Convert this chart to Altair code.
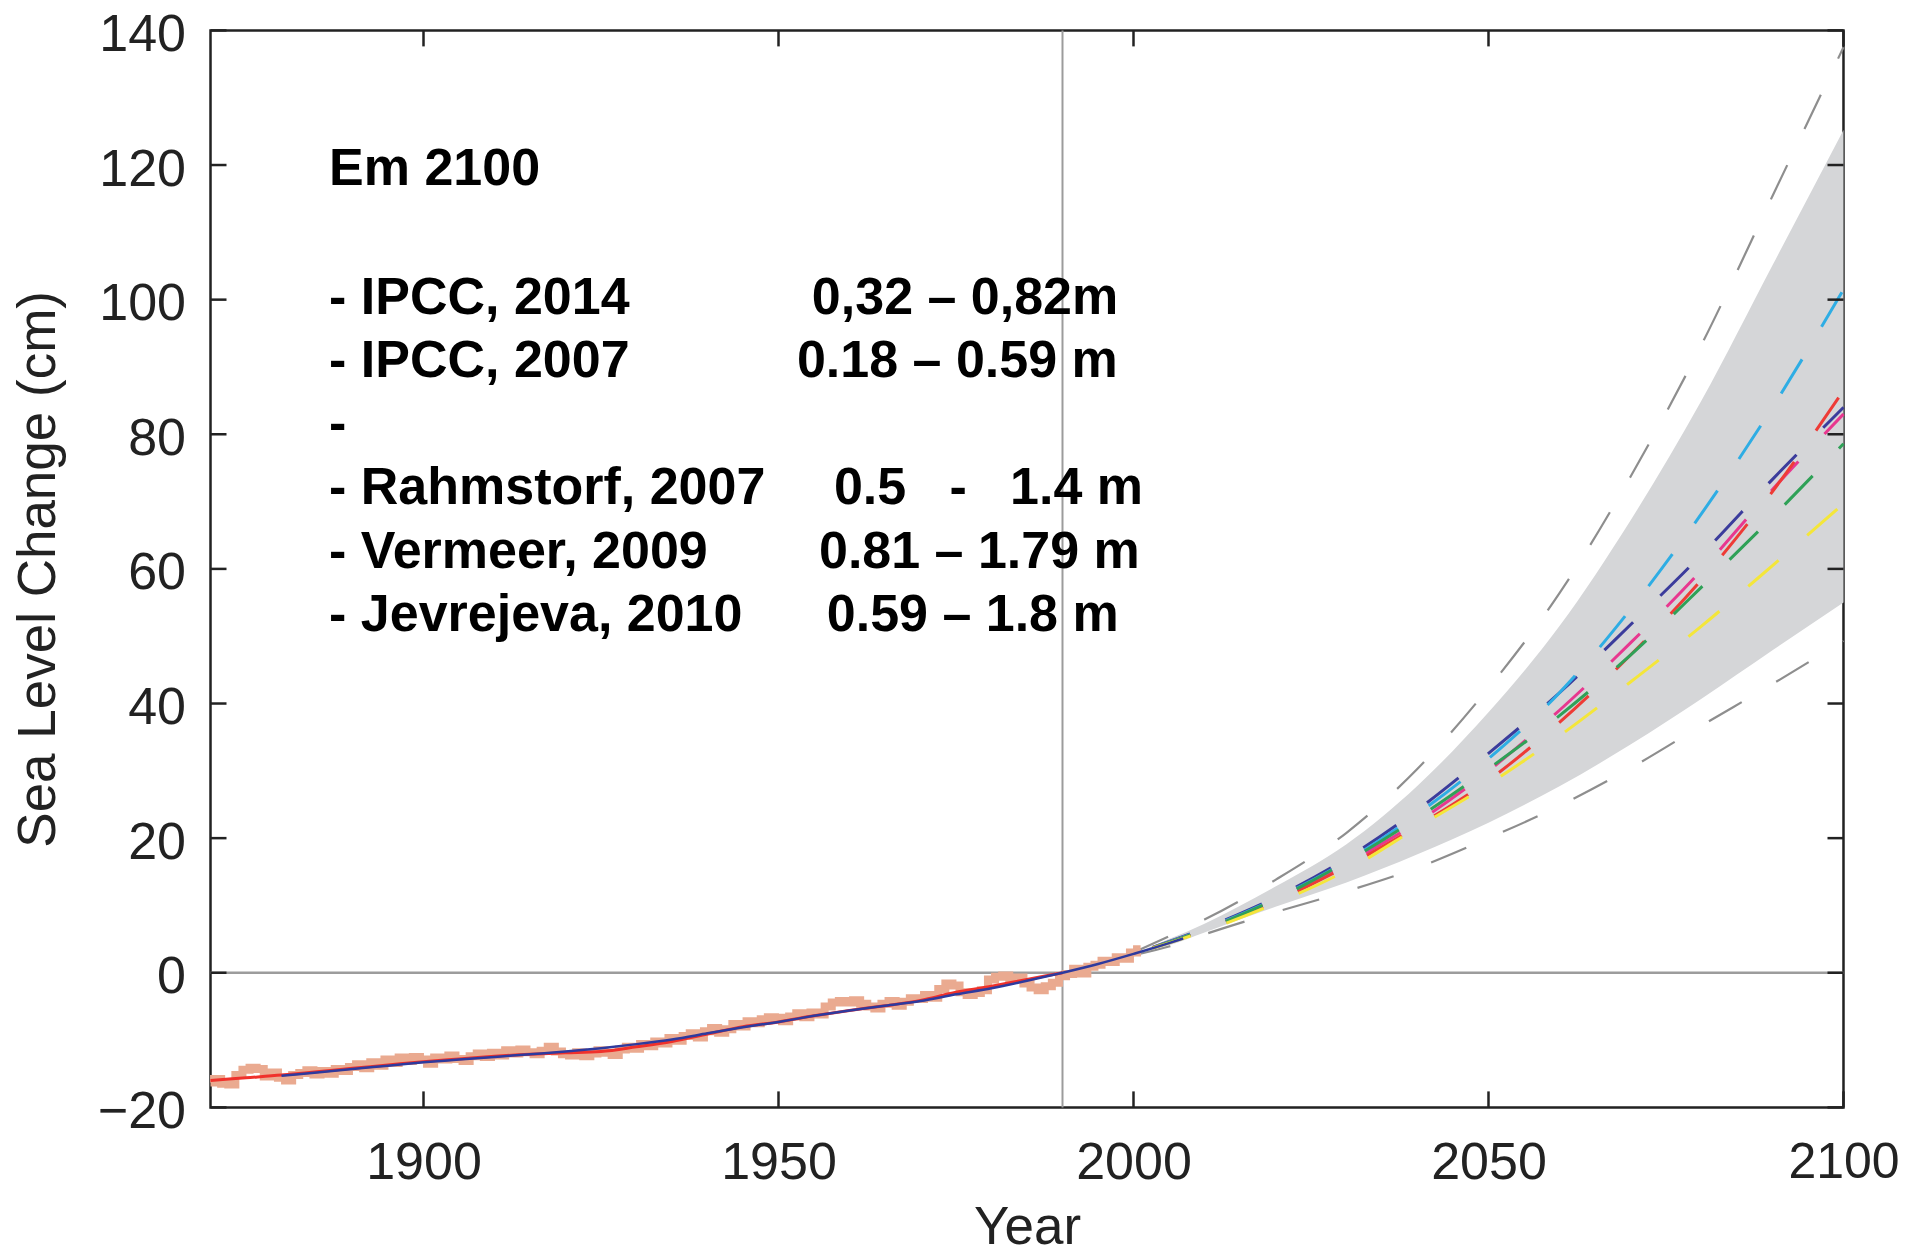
import altair as alt
import pandas as pd

# ---------------- data ----------------
obs_years = list(range(1870, 2002))
obs_cm = [
    -16.3, -15.8, -16.5, -16.6, -15.2, -14.4, -14.1, -14.3, -15.4, -14.8,
    -15.6, -16.0, -15.2, -14.9, -14.5, -15.1, -14.6, -15.0, -14.3, -14.6,
    -14.0, -13.6, -14.2, -13.3, -13.8, -12.9, -13.4, -12.6, -13.1, -12.5,
    -12.9, -13.5, -12.6, -12.9, -12.3, -12.8, -13.1, -12.4, -12.0, -12.5,
    -11.9, -12.3, -11.5, -12.0, -11.4, -11.8, -12.1, -11.6, -11.0, -11.7,
    -12.1, -12.3, -11.8, -12.4, -12.0, -11.5, -11.9, -12.2, -11.4, -11.0,
    -11.3, -10.6, -10.9, -10.2, -10.5, -9.7, -10.1, -9.4, -9.0, -9.6,
    -8.7, -8.2, -8.9, -8.4, -7.6, -8.0, -7.2, -7.5, -6.9, -6.6,
    -6.7, -7.2, -6.5, -6.0, -6.6, -5.9, -6.2, -5.0, -4.4, -4.2,
    -4.4, -4.1, -4.6, -5.0, -5.3, -4.6, -4.2, -4.9, -4.3, -3.8,
    -3.9, -3.3, -3.7, -2.4, -1.6, -1.9, -2.9, -3.3, -3.0, -2.6,
    -1.0, -0.6, -0.4, -0.9, -0.7, -1.6, -2.2, -2.6, -2.0, -1.5,
    -0.5, -0.2, 0.6, -0.1, 0.9, 1.2, 1.8, 1.6, 2.3, 2.1,
    3.0, 3.5,
]

smooth_years = list(range(1870, 1995, 5))
smooth_cm = [-16.0, -15.6, -15.2, -14.7, -14.2, -13.7, -13.2, -12.8, -12.4,
             -12.1, -11.9, -11.7, -11.0, -10.2, -9.1, -8.0, -7.3, -6.4, -5.6,
             -4.9, -4.1, -2.9, -2.0, -1.0, 0.0]

fit_years = [1880, 1885, 1890, 1895, 1900, 1905, 1910, 1915, 1920, 1925, 1930,
             1935, 1940, 1945, 1950, 1955, 1960, 1965, 1970, 1975, 1980, 1985,
             1990, 1995, 2000, 2005, 2007]
fit_cm = [-15.3, -14.8, -14.3, -13.8, -13.3, -12.9, -12.5, -12.1, -11.7, -11.2,
          -10.6, -9.9, -9.0, -8.1, -7.3, -6.4, -5.6, -4.9, -4.2, -3.2, -2.3,
          -1.2, 0.0, 1.3, 2.8, 4.4, 5.1]

proj_years = [2000, 2005, 2010, 2020, 2030, 2040, 2050, 2060, 2070, 2080, 2090, 2100]
band_low = [2.8, 4.1, 6.0, 9.8, 13.4, 17.6, 22.3, 27.7, 33.9, 40.7, 47.9, 55.0]
band_high = [2.8, 5.0, 7.3, 12.8, 19.1, 27.8, 38.7, 51.5, 67.2, 85.0, 105.1, 125.2]
err_low = [2.6, 3.9, 5.7, 9.0, 12.1, 15.6, 20.0, 24.8, 30.4, 36.7, 42.9, 49.3]
err_high = [3.0, 5.4, 7.9, 13.8, 20.8, 30.3, 42.3, 56.4, 73.7, 93.3, 115.4, 137.5]

scen_years = [2000, 2010, 2020, 2030, 2040, 2050, 2060, 2070, 2080, 2090, 2100]
scen_navy = [2.8, 6.6, 11.2, 17.0, 24.2, 32.6, 41.6, 51.7, 62.1, 73.3, 84.0]
scen_cyan = [2.8, 6.5, 11.0, 16.6, 23.6, 31.8, 41.6, 54.0, 68.2, 84.0, 101.5]
scen_magenta = [2.8, 6.4, 10.8, 16.2, 22.4, 30.0, 39.0, 49.0, 59.8, 71.8, 83.0]
scen_red = [2.8, 6.3, 10.6, 15.8, 21.8, 28.6, 37.2, 47.2, 58.4, 71.5, 86.5]
scen_green = [2.8, 6.4, 10.9, 16.5, 23.0, 30.3, 38.2, 47.2, 57.3, 67.7, 78.6]
scen_yellow = [2.8, 6.2, 10.3, 15.2, 21.6, 28.0, 35.2, 43.2, 51.5, 60.5, 69.7]
scen_names = ["navy", "cyan", "magenta", "red", "green", "yellow"]
scen_colors = ["#3B3C9C", "#2EADE4", "#E8378F", "#EE3B36", "#2FA157", "#F4E63A"]

y_ticks = [-20, 0, 20, 40, 60, 80, 100, 120, 140]
x_ticks = [1900, 1950, 2000, 2050, 2100]

left_text = ["Em 2100", "- IPCC, 2014", "- IPCC, 2007", "-",
             "- Rahmstorf, 2007", "- Vermeer, 2009", "- Jevrejeva, 2010"]
left_text_year = [1886.7] * 7
left_text_cm = [117.0, 97.9, 88.5, 79.1, 69.6, 60.1, 50.7]
right_text = ["0,32 \u2013 0,82m", "0.18 \u2013 0.59 m",
              "0.5\u00a0\u00a0\u00a0-\u00a0\u00a0\u00a01.4 m",
              "0.81 \u2013 1.79 m", "0.59 \u2013 1.8 m"]
right_text_year = [1954.7, 1952.6, 1957.8, 1955.7, 1956.8]
right_text_cm = [97.9, 88.5, 69.6, 60.1, 50.7]

# ---------------- tables ----------------
obs_df = pd.DataFrame({"year": obs_years, "cm": obs_cm})
smooth_df = pd.DataFrame({"year": smooth_years, "cm": smooth_cm})
fit_df = pd.DataFrame({"year": fit_years, "cm": fit_cm})
band_df = pd.DataFrame({"year": proj_years, "cm": band_low, "cm2": band_high})
err_df = pd.concat([
    pd.DataFrame({"year": proj_years, "cm": err_low, "s": "low"}),
    pd.DataFrame({"year": proj_years, "cm": err_high, "s": "high"}),
])
scen_lists = [scen_navy, scen_cyan, scen_magenta, scen_red, scen_green, scen_yellow]
scen_df = pd.concat([
    pd.DataFrame({"year": scen_years, "cm": v, "scen": n})
    for n, v in zip(scen_names, scen_lists)
])
ytick_df = pd.DataFrame({"cm": y_ticks})
xtick_df = pd.DataFrame({"year": x_ticks})
left_df = pd.DataFrame({"year": left_text_year, "cm": left_text_cm, "t": left_text})
right_df = pd.DataFrame({"year": right_text_year, "cm": right_text_cm, "t": right_text})

W, H = 1633, 1077
FONT = "Liberation Sans"

xs = alt.Scale(domain=[1870, 2100], nice=False, zero=False)
ys = alt.Scale(domain=[-20, 140], nice=False, zero=False)
X = alt.X("year:Q", scale=xs, axis=alt.Axis(
    values=x_ticks, format="d", title="Year", labelPadding=30, titleY=94,
    labelFontSize={"condition": {"test": "datum.value == 2100", "value": 50}, "value": 52}))
Y = alt.Y("cm:Q", scale=ys, axis=alt.Axis(values=y_ticks, title="Sea Level Change (cm)",
                                           labelPadding=25, labelOffset=4, titleX=-145))

zero_line = alt.Chart(pd.DataFrame({"cm": [0]})).mark_rule(
    color="#9C9C9C", strokeWidth=2.5).encode(y=Y)
vline = alt.Chart(pd.DataFrame({"year": [1990]})).mark_rule(
    color="#9C9C9C", strokeWidth=2).encode(x=X)

band = alt.Chart(band_df).mark_area(color="#D5D6D8", interpolate="monotone").encode(
    x=X, y=Y, y2=alt.Y2("cm2:Q"))

err = alt.Chart(err_df).mark_line(color="#8E8E8E", strokeWidth=2.2, strokeDash=[38, 40],
                                  interpolate="monotone", strokeCap="butt").encode(
    x=X, y=Y, detail="s:N")

scen = alt.Chart(scen_df).mark_line(strokeWidth=3, strokeDash=[40, 38], strokeDashOffset=58,
                                    interpolate="monotone", strokeCap="butt").encode(
    x=X, y=Y,
    color=alt.Color("scen:N", scale=alt.Scale(domain=scen_names, range=scen_colors), legend=None))

obs = alt.Chart(obs_df).mark_line(color="#EAAA90", strokeWidth=8, interpolate="step",
                                  strokeCap="butt").encode(x=X, y=Y)
smooth = alt.Chart(smooth_df).mark_line(color="#F0312B", strokeWidth=3,
                                        interpolate="monotone").encode(x=X, y=Y)
fit = alt.Chart(fit_df).mark_line(color="#2E3A9E", strokeWidth=2.5,
                                  interpolate="monotone").encode(x=X, y=Y)

txt_l = alt.Chart(left_df).mark_text(align="left", baseline="alphabetic", font=FONT,
                                     fontSize=52, fontWeight="bold", color="#000").encode(
    x=X, y=Y, text="t:N")
txt_r = alt.Chart(right_df).mark_text(align="left", baseline="alphabetic", font=FONT,
                                      fontSize=52, fontWeight="bold", color="#000").encode(
    x=X, y=Y, text="t:N")

TK = 16
tick_l = alt.Chart(ytick_df).mark_rule(color="#222", strokeWidth=2.5).encode(
    y=Y, x=alt.value(0), x2=alt.value(TK))
tick_r = alt.Chart(ytick_df).mark_rule(color="#222", strokeWidth=2.5).encode(
    y=Y, x=alt.value(W - TK), x2=alt.value(W))
tick_b = alt.Chart(xtick_df).mark_rule(color="#222", strokeWidth=2.5).encode(
    x=X, y=alt.value(H - TK), y2=alt.value(H))
tick_t = alt.Chart(xtick_df).mark_rule(color="#222", strokeWidth=2.5).encode(
    x=X, y=alt.value(0), y2=alt.value(TK))

chart = alt.layer(
    zero_line, vline, band, err, scen, obs, smooth, fit, txt_l, txt_r,
    tick_l, tick_r, tick_b, tick_t
).properties(
    width=W, height=H,
    autosize=alt.AutoSizeParams(type="none"),
    padding={"left": 202.5, "top": 22.4, "right": 56, "bottom": 140},
).configure_view(
    stroke="#222", strokeWidth=2.5
).configure_axis(
    grid=False, ticks=False, domain=False,
    labelFont=FONT, labelFontSize=52, labelColor="#222",
    titleFont=FONT, titleFontSize=53, titleFontWeight="normal", titleColor="#222",
    labelFlush=False, labelOverlap=False,
)

chart.save("out.html", embed_options={"renderer": "svg", "actions": False})
